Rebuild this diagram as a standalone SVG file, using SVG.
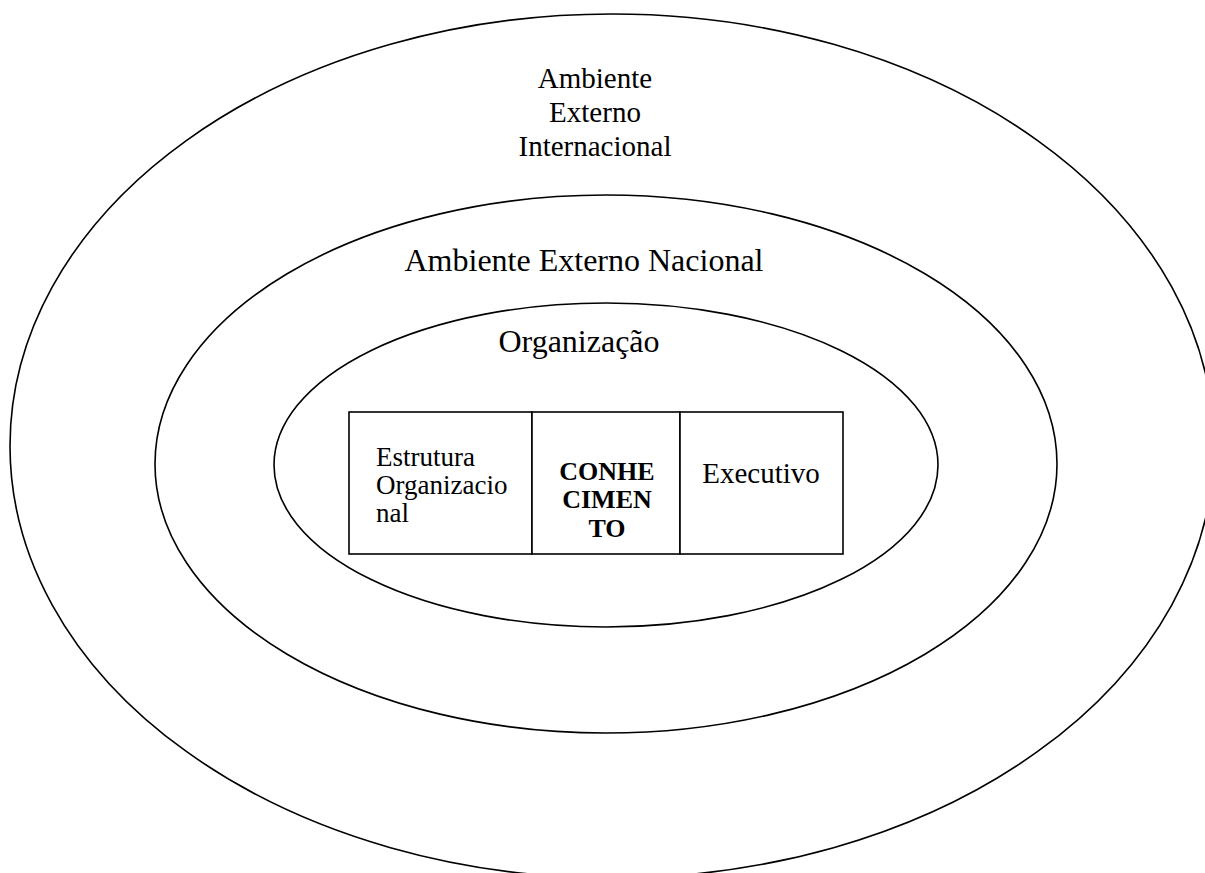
<svg xmlns="http://www.w3.org/2000/svg" width="1205" height="873" viewBox="0 0 1205 873">
<style>
.ring{fill:none;stroke:#000;stroke-width:1.6}
.box{fill:#fff;stroke:#000;stroke-width:1.6}
.t{font-family:"Liberation Serif","Times New Roman",serif;fill:#000}
</style>
<rect width="1205" height="873" fill="#fff"/>
<g id="outer">
<ellipse class="ring" cx="612" cy="446" rx="602" ry="432"/>
<text class="t" font-size="29" text-anchor="middle" x="595" y="88">Ambiente</text>
<text class="t" font-size="29" text-anchor="middle" x="595" y="122">Externo</text>
<text class="t" font-size="29" text-anchor="middle" x="595" y="156">Internacional</text>
</g>
<g id="middle">
<ellipse class="ring" cx="606" cy="464" rx="451" ry="269"/>
<text class="t" font-size="32" text-anchor="middle" x="584" y="271">Ambiente Externo Nacional</text>
</g>
<g id="inner">
<ellipse class="ring" cx="606" cy="465" rx="332" ry="162"/>
<text class="t" font-size="32" text-anchor="middle" x="579" y="352">Organização</text>
</g>
<g id="estrutura">
<rect class="box" x="349" y="412" width="183" height="142"/>
<text class="t" font-size="27" x="376" y="466">Estrutura</text>
<text class="t" font-size="27" x="376" y="494">Organizacio</text>
<text class="t" font-size="27" x="376" y="522">nal</text>
</g>
<g id="conhecimento">
<rect class="box" x="532" y="412" width="148" height="142"/>
<text class="t" font-size="26" font-weight="bold" text-anchor="middle" x="607" y="480">CONHE</text>
<text class="t" font-size="26" font-weight="bold" text-anchor="middle" x="607" y="508">CIMEN</text>
<text class="t" font-size="26" font-weight="bold" text-anchor="middle" x="607" y="537">TO</text>
</g>
<g id="executivo">
<rect class="box" x="680" y="412" width="163" height="142"/>
<text class="t" font-size="29" text-anchor="middle" x="761" y="483">Executivo</text>
</g>
<g id="connectors"></g>
</svg>
